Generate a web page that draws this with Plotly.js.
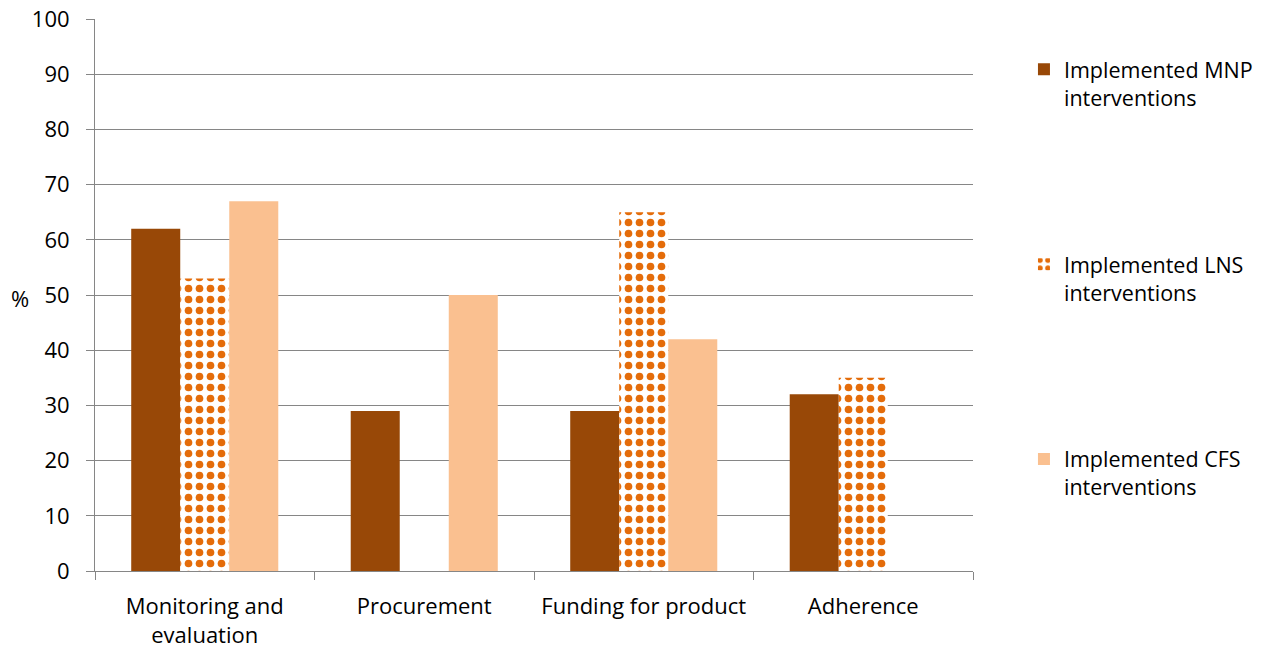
<!DOCTYPE html>
<html>
<head>
<meta charset="utf-8">
<script src="https://cdn.plot.ly/plotly-3.0.1.min.js"></script>
<style>html,body{margin:0;padding:0;background:#fff;}#chart{width:1272px;height:652px;}</style>
</head>
<body>
<div id="chart"></div>
<script>
const categories = ["Monitoring and<br>evaluation", "Procurement", "Funding for product", "Adherence"];
const mnpValues = [62, 29, 29, 32];
const lnsValues = [53, null, 65, 35];
const cfsValues = [67, 50, 42, null];
const seriesNames = ["Implemented MNP<br>interventions", "Implemented LNS<br>interventions", "Implemented CFS<br>interventions"];
const yTicks = [0, 10, 20, 30, 40, 50, 60, 70, 80, 90, 100];

const font = {family: "'Open Sans', 'Noto Sans', sans-serif", size: 22, color: "#000"};
const legendFont = {family: "'Open Sans', 'Noto Sans', sans-serif", size: 21.5, color: "#000"};

const traces = [
  {type: "bar", x: categories, y: mnpValues, name: seriesNames[0], legendgroup: "a",
   marker: {color: "#984807", line: {width: 0}}},
  {type: "bar", x: categories, y: lnsValues, name: seriesNames[1], legendgroup: "b",
   marker: {color: "#E46C0A", line: {width: 0},
     pattern: {shape: ".", fgcolor: "#E46C0A", bgcolor: "#ffffff", size: 11, solidity: 0.38, fillmode: "replace", fgopacity: 1}}},
  {type: "bar", x: categories, y: cfsValues, name: seriesNames[2], legendgroup: "c",
   marker: {color: "#FAC090", line: {width: 0}}}
];

const layout = {
  width: 1272, height: 652,
  margin: {l: 95, r: 299, t: 19, b: 81, autoexpand: false},
  paper_bgcolor: "#fff", plot_bgcolor: "#fff",
  font: font,
  barmode: "group", bargap: 0.33, bargroupgap: 0,
  showlegend: true,
  legend: {xref: "container", x: 0.805, y: 0.946, xanchor: "left", yanchor: "top", valign: "top",
    tracegroupgap: 136, font: legendFont, bgcolor: "rgba(0,0,0,0)", itemwidth: 30},
  xaxis: {type: "category", showgrid: false, showline: true, linecolor: "#868686", linewidth: 1,
    ticks: "outside", tickson: "boundaries", ticklen: 8, tickcolor: "#868686",
    ticklabelstandoff: 16,
    tickfont: font, fixedrange: true, zeroline: false, automargin: false},
  yaxis: {range: [0, 100], tickvals: yTicks, ticktext: yTicks.map(String), showgrid: true, gridcolor: "#868686", gridwidth: 1,
    showline: true, linecolor: "#868686", linewidth: 1, ticks: "outside", ticklen: 8, tickcolor: "#868686",
    ticklabelstandoff: 12, automargin: false,
    tickfont: font, zeroline: false, fixedrange: true},
  annotations: [{text: "%", xref: "paper", yref: "paper", x: -0.085, y: 0.495, showarrow: false,
    font: font, xanchor: "center", yanchor: "middle"}]
};

Plotly.newPlot("chart", traces, layout, {displayModeBar: false, staticPlot: true});
</script>
</body>
</html>
